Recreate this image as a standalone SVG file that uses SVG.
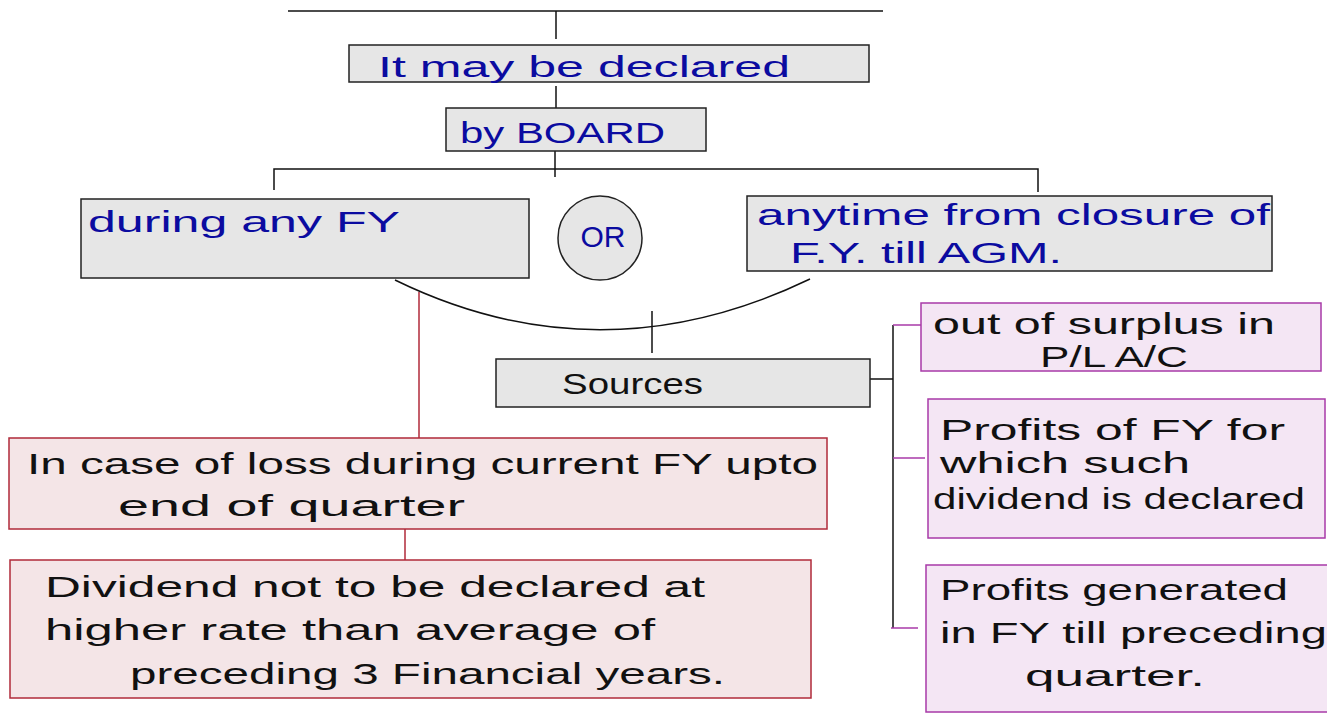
<svg xmlns="http://www.w3.org/2000/svg" width="1327" height="728" viewBox="0 0 1327 728">
<style>
.g{fill:#e6e6e6;stroke:#222;stroke-width:1.5}
.p{fill:#f4e5e7;stroke:#b02a3a;stroke-width:1.5}
.v{fill:#f4e6f4;stroke:#a83aa8;stroke-width:1.5}
.l{stroke:#111;stroke-width:1.5;fill:none}
.lr{stroke:#b02a3a;stroke-width:1.5;fill:none}
.lv{stroke:#a83aa8;stroke-width:1.5;fill:none}
.tb{font-family:"Liberation Sans",Arial,sans-serif;fill:#0b0ba0;font-size:30px}
.tk{font-family:"Liberation Sans",Arial,sans-serif;fill:#111;font-size:30px}
</style>
<rect width="1327" height="728" fill="#fff"/>
<g id="connectors">
<line class="l" x1="288" y1="11" x2="883" y2="11"/>
<line class="l" x1="556" y1="11" x2="556" y2="39"/>
<line class="l" x1="556" y1="86" x2="556" y2="108"/>
<line class="l" x1="555" y1="151" x2="555" y2="177"/>
<polyline class="l" points="274,190 274,169 1038,169 1038,192"/>
<path class="l" d="M395,280 Q600,380 810,279"/>
<line class="l" x1="652" y1="311" x2="652" y2="353"/>
<line class="lr" x1="419" y1="292" x2="419" y2="438"/>
<line class="lr" x1="405" y1="529" x2="405" y2="560"/>
<line class="l" x1="870" y1="379" x2="893" y2="379"/>
<line class="l" x1="893" y1="325" x2="893" y2="628"/>
<line class="lv" x1="893" y1="325" x2="921" y2="325"/>
<line class="lv" x1="893" y1="458" x2="925" y2="458"/>
<line class="lv" x1="891" y1="628" x2="918" y2="628"/>
</g>
<g id="n-declared">
<rect class="g" x="349" y="45" width="520" height="37"/>
<text class="tb" x="378" y="77" textLength="412" lengthAdjust="spacingAndGlyphs">It may be declared</text>
</g>
<g id="n-board">
<rect class="g" x="446" y="108" width="260" height="43"/>
<text class="tb" x="460" y="143" textLength="205" lengthAdjust="spacingAndGlyphs">by BOARD</text>
</g>
<g id="n-during">
<rect class="g" x="81" y="199" width="448" height="79"/>
<text class="tb" x="88" y="232" textLength="312" lengthAdjust="spacingAndGlyphs">during any FY</text>
</g>
<g id="n-or">
<circle cx="600" cy="238" r="42" fill="#e6e6e6" stroke="#222" stroke-width="1.5"/>
<text class="tb" x="603" y="247" text-anchor="middle" font-size="26">OR</text>
</g>
<g id="n-anytime">
<rect class="g" x="747" y="196" width="525" height="75"/>
<text class="tb" x="757" y="225" textLength="513" lengthAdjust="spacingAndGlyphs">anytime from closure of</text>
<text class="tb" x="790" y="263" textLength="272" lengthAdjust="spacingAndGlyphs">F.Y. till AGM.</text>
</g>
<g id="n-sources">
<rect class="g" x="496" y="359" width="374" height="48"/>
<text class="tk" x="562" y="394" textLength="141" lengthAdjust="spacingAndGlyphs">Sources</text>
</g>
<g id="n-loss">
<rect class="p" x="9" y="438" width="818" height="91"/>
<text class="tk" x="27" y="474" textLength="791" lengthAdjust="spacingAndGlyphs">In case of loss during current FY upto</text>
<text class="tk" x="118" y="516" textLength="347" lengthAdjust="spacingAndGlyphs">end of quarter</text>
</g>
<g id="n-dividend">
<rect class="p" x="10" y="560" width="801" height="138"/>
<text class="tk" x="45" y="597" textLength="660" lengthAdjust="spacingAndGlyphs">Dividend not to be declared at</text>
<text class="tk" x="45" y="640" textLength="610" lengthAdjust="spacingAndGlyphs">higher rate than average of</text>
<text class="tk" x="130" y="684" textLength="595" lengthAdjust="spacingAndGlyphs">preceding 3 Financial years.</text>
</g>
<g id="n-surplus">
<rect class="v" x="921" y="303" width="400" height="68"/>
<text class="tk" x="933" y="334" textLength="342" lengthAdjust="spacingAndGlyphs">out of surplus in</text>
<text class="tk" x="1040" y="367" textLength="148" lengthAdjust="spacingAndGlyphs">P/L A/C</text>
</g>
<g id="n-profits-fy">
<rect class="v" x="928" y="399" width="397" height="139"/>
<text class="tk" x="940" y="440" textLength="345" lengthAdjust="spacingAndGlyphs">Profits of FY for</text>
<text class="tk" x="940" y="473" textLength="250" lengthAdjust="spacingAndGlyphs">which such</text>
<text class="tk" x="933" y="509" textLength="372" lengthAdjust="spacingAndGlyphs">dividend is declared</text>
</g>
<g id="n-profits-gen">
<rect class="v" x="926" y="565" width="410" height="147"/>
<text class="tk" x="940" y="600" textLength="348" lengthAdjust="spacingAndGlyphs">Profits generated</text>
<text class="tk" x="940" y="643" textLength="387" lengthAdjust="spacingAndGlyphs">in FY till preceding</text>
<text class="tk" x="1025" y="686" textLength="180" lengthAdjust="spacingAndGlyphs">quarter.</text>
</g>
</svg>
